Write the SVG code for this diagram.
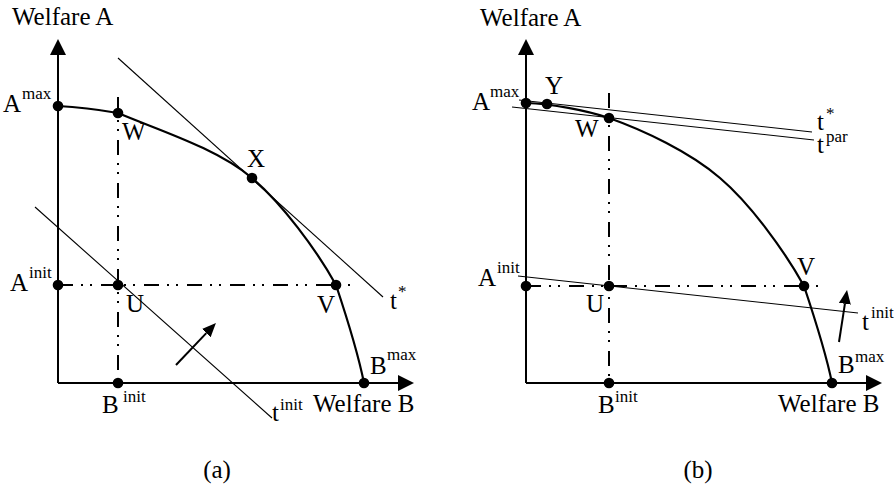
<svg xmlns="http://www.w3.org/2000/svg" width="894" height="489" viewBox="0 0 894 489">
<style>
text{font-family:"Liberation Serif","Times New Roman",serif;font-size:25px;fill:#000}
.sup{font-size:17px}
.axis{stroke:#000;stroke-width:2;fill:none}
.frontier{stroke:#000;stroke-width:2.2;fill:none;stroke-linejoin:round}
.thin{stroke:#000;stroke-width:1.1;fill:none}
.dd{stroke:#000;stroke-width:2;fill:none;stroke-dasharray:15 8 2 7 2 9}
.dot{fill:#000}
.arr{stroke:#000;stroke-width:2;fill:none}
</style>
<defs>
<marker id="axhead" viewBox="0 0 16 16" refX="0" refY="8" markerWidth="16" markerHeight="16" markerUnits="userSpaceOnUse" orient="auto">
<path d="M0,0 L16,8 L0,16 Z" fill="#000"/>
</marker>
<marker id="smallhead" viewBox="0 0 14 12" refX="0" refY="6" markerWidth="14" markerHeight="12" markerUnits="userSpaceOnUse" orient="auto">
<path d="M0,0 L14,6 L0,12 Z" fill="#000"/>
</marker>
</defs>

<!-- Panel (a) -->
<g id="panel-a">
<g id="a-axes">
<path class="axis" d="M58,383 V55" marker-end="url(#axhead)"/>
<path class="axis" d="M58,383 H398" marker-end="url(#axhead)"/>
<text x="12" y="25">Welfare A</text>
<text x="313" y="412">Welfare B</text>
</g>
<g id="a-connectors">
<path class="frontier" d="M58,106 C78,107 98,109.5 118,113 C158,130 217,148.25 252,178 C282,203.5 316,249 336,285 C346,315 358,353 364,383"/>
<path class="dd" d="M118,97 V383"/>
<path class="dd" d="M58,285 H355"/>
<path class="thin" d="M118,58 L383,297"/>
<path class="thin" d="M35,207 L272,418"/>
<path class="arr" d="M176,365 L206.3,333.1" marker-end="url(#smallhead)"/>
</g>
<g id="a-Amax"><circle class="dot" cx="58" cy="106" r="5.3"/><text x="3" y="112">A<tspan class="sup" x="22" y="99">max</tspan></text></g>
<g id="a-W"><circle class="dot" cx="118" cy="113" r="5.3"/><text x="122" y="140">W</text></g>
<g id="a-X"><circle class="dot" cx="252" cy="178" r="5.3"/><text x="247" y="167">X</text></g>
<g id="a-Ainit"><circle class="dot" cx="58" cy="285" r="5.3"/><text x="10" y="291">A<tspan class="sup" x="29" y="278">init</tspan></text></g>
<g id="a-U"><circle class="dot" cx="118" cy="285" r="5.3"/><text x="126" y="312">U</text></g>
<g id="a-V"><circle class="dot" cx="336" cy="285" r="5.3"/><text x="317" y="313">V</text></g>
<g id="a-Binit"><circle class="dot" cx="118" cy="383" r="5.3"/><text x="102" y="413">B<tspan class="sup" x="123" y="402">init</tspan></text></g>
<g id="a-Bmax"><circle class="dot" cx="364" cy="383" r="5.3"/><text x="370" y="374">B<tspan class="sup" x="387" y="360">max</tspan></text></g>
<g id="a-tstar"><text x="390" y="309">t<tspan class="sup" x="398" y="297">*</tspan></text></g>
<g id="a-tinit"><text x="272" y="421">t<tspan class="sup" x="280" y="410">init</tspan></text></g>
<text x="217" y="478" text-anchor="middle">(a)</text>
</g>

<!-- Panel (b) -->
<g id="panel-b">
<g id="b-axes">
<path class="axis" d="M526,383 V55" marker-end="url(#axhead)"/>
<path class="axis" d="M526,383 H866" marker-end="url(#axhead)"/>
<text x="480" y="26">Welfare A</text>
<text x="778" y="412">Welfare B</text>
</g>
<g id="b-connectors">
<path class="frontier" d="M526,103 C552,104 585,110 609,118 C643,130 690,152 720,178 C750,203.5 784,250 804,286 C814,316 826,353 832,383"/>
<path class="dd" d="M609,93 V383"/>
<path class="dd" d="M526,286 H822"/>
<path class="thin" d="M519,100 L812,132"/>
<path class="thin" d="M512,107 L814,140"/>
<path class="thin" d="M518,276 L858,313"/>
<path class="arr" d="M839,342 L844.9,303.8" marker-end="url(#smallhead)"/>
</g>
<g id="b-Amax"><circle class="dot" cx="526" cy="103" r="5.3"/><text x="472" y="110">A<tspan class="sup" x="490" y="97">max</tspan></text></g>
<g id="b-Y"><circle class="dot" cx="547" cy="104" r="5.3"/><text x="545" y="94">Y</text></g>
<g id="b-W"><circle class="dot" cx="609" cy="118" r="5.3"/><text x="575" y="137">W</text></g>
<g id="b-Ainit"><circle class="dot" cx="526" cy="286" r="5.3"/><text x="478" y="286">A<tspan class="sup" x="497" y="273">init</tspan></text></g>
<g id="b-U"><circle class="dot" cx="609" cy="286" r="5.3"/><text x="586" y="312">U</text></g>
<g id="b-V"><circle class="dot" cx="804" cy="286" r="5.3"/><text x="797" y="275">V</text></g>
<g id="b-Binit"><circle class="dot" cx="609" cy="383" r="5.3"/><text x="598" y="413">B<tspan class="sup" x="615" y="402">init</tspan></text></g>
<g id="b-Bmax"><circle class="dot" cx="832" cy="383" r="5.3"/><text x="838" y="373">B<tspan class="sup" x="855" y="362">max</tspan></text></g>
<g id="b-tstar"><text x="817" y="130">t<tspan class="sup" x="826" y="119">*</tspan></text></g>
<g id="b-tpar"><text x="817" y="153">t<tspan class="sup" x="826" y="142">par</tspan></text></g>
<g id="b-tinit"><text x="862" y="330">t<tspan class="sup" x="871" y="318">init</tspan></text></g>
<text x="698" y="478" text-anchor="middle">(b)</text>
</g>
</svg>
